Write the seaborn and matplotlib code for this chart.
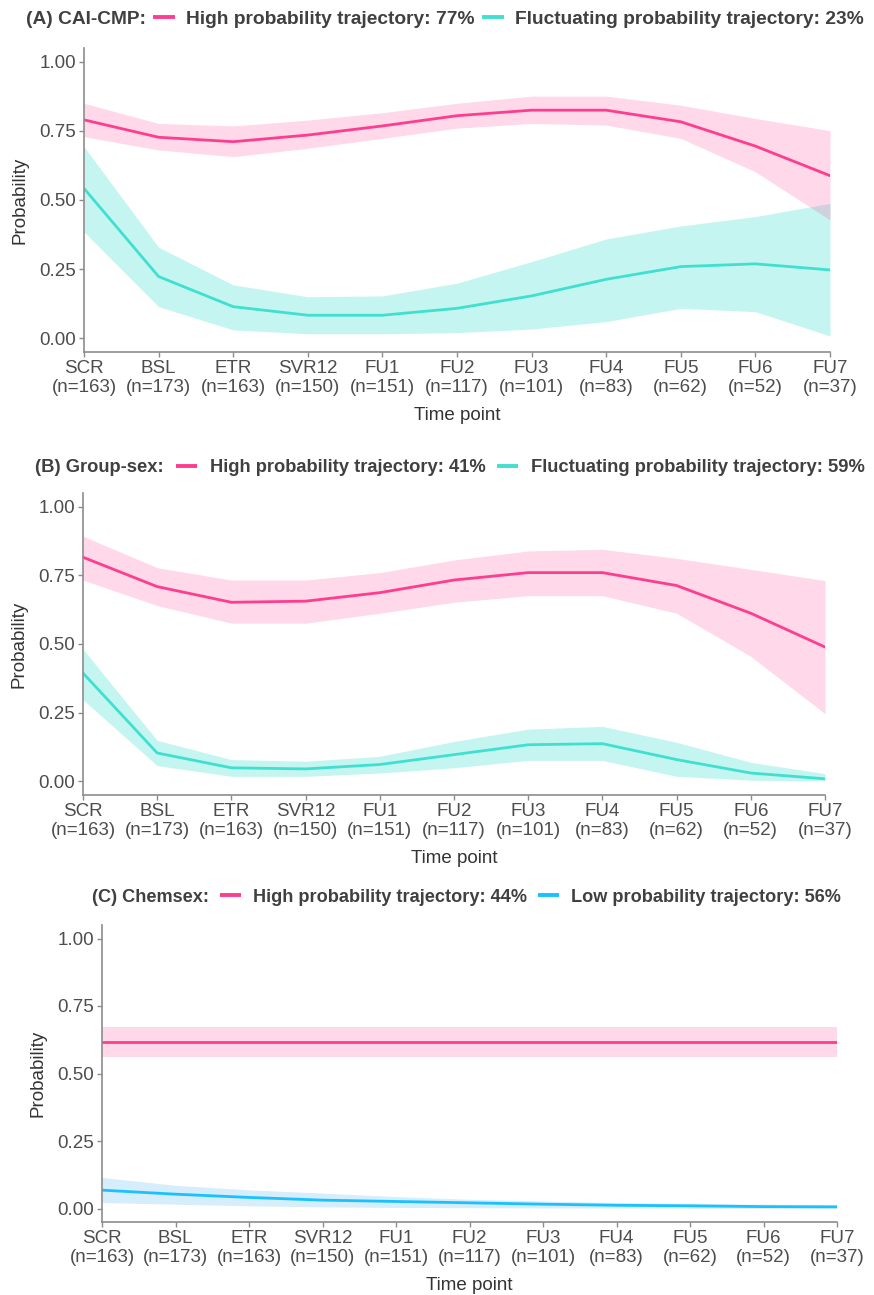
import numpy as np
import pandas as pd
import matplotlib
matplotlib.use("Agg")
import matplotlib.pyplot as plt
from matplotlib.lines import Line2D
import seaborn as sns

# time points and number of observations
times = ["SCR", "BSL", "ETR", "SVR12", "FU1", "FU2", "FU3", "FU4", "FU5", "FU6", "FU7"]
n_obs = [163, 173, 163, 150, 151, 117, 101, 83, 62, 52, 37]

# (A) CAI-CMP
a_high = [0.790, 0.727, 0.711, 0.735, 0.768, 0.805, 0.825, 0.825, 0.783, 0.695, 0.588]
a_high_lo = [0.729, 0.681, 0.657, 0.687, 0.723, 0.760, 0.777, 0.771, 0.723, 0.602, 0.428]
a_high_hi = [0.850, 0.777, 0.768, 0.789, 0.816, 0.850, 0.876, 0.876, 0.843, 0.795, 0.751]
a_fluct = [0.542, 0.223, 0.114, 0.083, 0.083, 0.108, 0.153, 0.213, 0.259, 0.269, 0.247]
a_fluct_lo = [0.385, 0.114, 0.030, 0.016, 0.016, 0.020, 0.033, 0.060, 0.108, 0.096, 0.008]
a_fluct_hi = [0.693, 0.329, 0.193, 0.150, 0.153, 0.199, 0.277, 0.359, 0.406, 0.440, 0.488]

# (B) Group-sex
b_high = [0.816, 0.709, 0.652, 0.656, 0.687, 0.733, 0.760, 0.760, 0.713, 0.612, 0.489]
b_high_lo = [0.733, 0.640, 0.576, 0.576, 0.612, 0.652, 0.676, 0.676, 0.612, 0.455, 0.246]
b_high_hi = [0.893, 0.778, 0.733, 0.733, 0.760, 0.806, 0.839, 0.845, 0.812, 0.772, 0.731]
b_fluct = [0.394, 0.103, 0.049, 0.045, 0.061, 0.097, 0.133, 0.137, 0.079, 0.030, 0.009]
b_fluct_lo = [0.297, 0.057, 0.018, 0.018, 0.030, 0.049, 0.076, 0.076, 0.018, 0.004, 0.001]
b_fluct_hi = [0.481, 0.149, 0.079, 0.073, 0.091, 0.145, 0.190, 0.200, 0.142, 0.069, 0.028]

# (C) Chemsex
c_high = [0.616] * 11
c_high_lo = [0.561] * 11
c_high_hi = [0.672] * 11
c_low = [0.068, 0.053, 0.041, 0.031, 0.026, 0.021, 0.016, 0.012, 0.010, 0.007, 0.006]
c_low_lo = [0.022, 0.016, 0.010, 0.006, 0.004, 0.003, 0.002, 0.002, 0.001, 0.001, 0.001]
c_low_hi = [0.115, 0.086, 0.069, 0.057, 0.044, 0.034, 0.028, 0.022, 0.018, 0.016, 0.015]

PINK = "#FF3D8F"
TEAL = "#40E0D0"
BLUE = "#1AC1FF"
FILLS = {PINK: ("#FF3E96", 0.2), TEAL: (TEAL, 0.3), BLUE: ("#D6EDFB", 1.0)}

sns.set_style("ticks")
plt.rcParams["font.family"] = ["Liberation Sans", "DejaVu Sans"]

fig = plt.figure(figsize=(8.74, 12.95), dpi=100)
W, H = 874, 1295

panels = [
    dict(title="(A) CAI-CMP:", box=(84, 830, 48, 352), leg_left=-7, leg_y=19, ylab_x=28,
         leg_size=13.8, col_sp=0.4, txt_pad=0.55,
         series=[("Fluctuating probability trajectory: 23%", TEAL, a_fluct, a_fluct_lo, a_fluct_hi),
                 ("High probability trajectory: 77%", PINK, a_high, a_high_lo, a_high_hi)]),
    dict(title="(B) Group-sex:", box=(83, 825, 493, 795), leg_left=1, leg_y=468, ylab_x=28,
         leg_size=13.2, col_sp=0.66, txt_pad=0.7,
         series=[("Fluctuating probability trajectory: 59%", TEAL, b_fluct, b_fluct_lo, b_fluct_hi),
                 ("High probability trajectory: 41%", PINK, b_high, b_high_lo, b_high_hi)]),
    dict(title="(C) Chemsex:", box=(102, 837, 925, 1222), leg_left=59, leg_y=897, ylab_x=47,
         leg_size=13.1, col_sp=0.62, txt_pad=0.65,
         series=[("Low probability trajectory: 56%", BLUE, c_low, c_low_lo, c_low_hi),
                 ("High probability trajectory: 44%", PINK, c_high, c_high_lo, c_high_hi)]),
]

x_idx = np.arange(len(times))
tick_labels = [f"{t}\n(n={n})" for t, n in zip(times, n_obs)]

for p in panels:
    l, r, t, b = p["box"]
    ax = fig.add_axes([l / W, 1 - b / H, (r - l) / W, (b - t) / H])

    rows = []
    for name, col, mid, lo, hi in p["series"]:
        fc, al = FILLS[col]
        ax.fill_between(x_idx, lo, hi, color=fc, alpha=al, lw=0)
        rows.append(pd.DataFrame({"pos": x_idx, "prob": mid, "traj": name}))
    df = pd.concat(rows, ignore_index=True)
    pal = {name: col for name, col, *_ in p["series"]}
    sns.lineplot(data=df, x="pos", y="prob", hue="traj", palette=pal, lw=2.0,
                 ax=ax, legend=False)

    ax.set_xlim(0, len(times) - 1)
    ax.set_ylim(-0.05, 1.05)
    ax.set_xticks(x_idx)
    ax.set_xticklabels(tick_labels)
    ax.set_yticks([0, 0.25, 0.5, 0.75, 1.0])
    ax.set_yticklabels(["0.00", "0.25", "0.50", "0.75", "1.00"])
    ax.tick_params(labelsize=13.5, colors="#8C8C8C", labelcolor="#4D4D4D",
                   length=3.5, width=1.0, pad=2)
    sns.despine(ax=ax)
    for s in ["left", "bottom"]:
        ax.spines[s].set_color("#8C8C8C")
        ax.spines[s].set_linewidth(1.2)

    ax.set_xlabel("Time point", fontsize=13.5, color="#333333", labelpad=8)
    ax.set_ylabel("Probability", fontsize=13.5, color="#333333")
    ax.yaxis.set_label_coords((p["ylab_x"] - l) / (r - l), 0.5)

    # legend in a single row above the panel, with the panel title as first entry
    handles = [Line2D([], [], color="none")]
    labels = [p["title"]]
    for name, col, *_ in reversed(p["series"]):
        handles.append(Line2D([], [], color=col, lw=2.8, solid_capstyle="butt"))
        labels.append(name)
    leg = ax.legend(handles, labels, loc="center left", ncol=3, frameon=False,
                    bbox_to_anchor=(p["leg_left"] / W, 1 - p["leg_y"] / H),
                    bbox_transform=fig.transFigure, borderaxespad=0, borderpad=0,
                    handlelength=1.15, handletextpad=p["txt_pad"],
                    columnspacing=p["col_sp"],
                    prop={"weight": "bold", "size": p["leg_size"]})
    for txt in leg.get_texts():
        txt.set_color("#404040")

plt.savefig("out.png", dpi=100)
